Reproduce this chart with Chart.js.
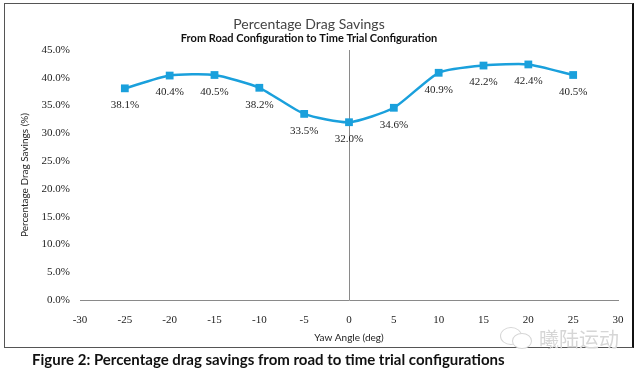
<!DOCTYPE html>
<html>
<head>
<meta charset="utf-8">
<script src="https://cdn.jsdelivr.net/npm/chart.js@4.4.1/dist/chart.umd.min.js"></script>
<style>
  html, body { margin: 0; padding: 0; background: #fff; }
  #wrap { position: relative; width: 640px; height: 369px; overflow: hidden; }
  #frame { position: absolute; left: 4px; top: 3px; width: 630px; height: 345px;
           border: 1px solid #555; border-right: 2px solid #111; box-sizing: border-box; }
  #chart { position: absolute; left: 0; top: 0; }
  #caption { position: absolute; left: 32px; top: 350px; font: bold 15px Lato, 'Open Sans', sans-serif;
             color: #111; white-space: nowrap; }
  #mark { position: absolute; left: 539px; top: 324px; font: 20px 'Noto Sans CJK SC', sans-serif;
          color: #d6d6d6; white-space: nowrap; }
  .bubble { position: absolute; border: 1.5px solid #d6d6d6; border-radius: 50%; }
</style>
</head>
<body>
<div id="wrap">
  <div id="frame"></div>
  <canvas id="chart" width="640" height="369"></canvas>
  <div class="bubble" style="left:500px;top:327px;width:20px;height:16px;"></div>
  <div class="bubble" style="left:512px;top:333px;width:18px;height:14px;background:#fff;"></div>
  <div id="mark">曦陆运动</div>
  <div id="caption">Figure 2: Percentage drag savings from road to time trial configurations</div>
</div>
<script>
// ── Data ──
var yawAngles   = [-25, -20, -15, -10, -5, 0, 5, 10, 15, 20, 25];
var dragSavings = [38.1, 40.4, 40.5, 38.2, 33.5, 32.0, 34.6, 40.9, 42.2, 42.4, 40.5];
var xRange = [-30, 30];
var yRange = [0, 45];

var lineColor = '#1aa0dc';
var serif = "'Liberation Serif', 'DejaVu Serif', serif";
var sans = "Lato, 'Open Sans', sans-serif";
var narrow = "'Liberation Sans Narrow', " + sans;

// ── Value labels under each marker ──
var pointLabels = {
    id: 'pointLabels',
    afterDatasetsDraw: function (chart) {
        var ctx = chart.ctx;
        var meta = chart.getDatasetMeta(0);
        ctx.save();
        ctx.font = '11px ' + serif;
        ctx.fillStyle = '#222';
        ctx.textAlign = 'center';
        ctx.textBaseline = 'middle';
        meta.data.forEach(function (pt, i) {
            ctx.fillText(dragSavings[i].toFixed(1) + '%', pt.x, pt.y + 17);
        });
        ctx.restore();
    }
};

new Chart(document.getElementById('chart'), {
    type: 'line',
    data: {
        datasets: [{
            data: yawAngles.map(function (x, i) { return { x: x, y: dragSavings[i] }; }),
            borderColor: lineColor,
            backgroundColor: lineColor,
            borderWidth: 2.5,
            tension: 0.2,
            pointStyle: 'rect',
            pointRadius: 5.5,
            pointBorderWidth: 0,
            pointBackgroundColor: lineColor
        }]
    },
    options: {
        responsive: false,
        animation: false,
        layout: { padding: { left: 0, right: 22, top: 0, bottom: 0 } },
        plugins: {
            legend: { display: false },
            tooltip: { enabled: false },
            title: {
                display: true,
                text: 'Percentage Drag Savings',
                color: '#444',
                font: { family: narrow, size: 14, weight: 'normal', lineHeight: 1 },
                padding: { top: 17, bottom: 0 }
            },
            subtitle: {
                display: true,
                text: 'From Road Configuration to Time Trial Configuration',
                color: '#111',
                font: { family: narrow, size: 11, weight: 'bold', lineHeight: 1 },
                padding: { top: 2, bottom: 6 }
            }
        },
        scales: {
            x: {
                type: 'linear',
                min: xRange[0],
                max: xRange[1],
                ticks: { stepSize: 5, padding: 14, color: '#222', font: { family: serif, size: 11 } },
                grid: {
                    drawTicks: false,
                    color: function (c) { return c.tick && c.tick.value === 0 ? '#8a8a8a' : 'rgba(0,0,0,0)'; }
                },
                border: { display: true, color: '#8a8a8a' },
                title: {
                    display: true,
                    text: 'Yaw Angle (deg)',
                    color: '#222',
                    font: { family: sans, size: 10 },
                    padding: { top: 0, bottom: 25 }
                },
                afterFit: function (s) { s.height = 69; }
            },
            y: {
                min: yRange[0],
                max: yRange[1],
                ticks: {
                    stepSize: 5,
                    padding: 10,
                    color: '#222',
                    font: { family: serif, size: 11 },
                    callback: function (v) { return v.toFixed(1) + '%'; }
                },
                grid: { display: false, drawTicks: false },
                border: { display: false },
                title: {
                    display: true,
                    text: 'Percentage Drag Savings (%)',
                    color: '#222',
                    font: { family: sans, size: 10 },
                    padding: { top: 19, bottom: 0 }
                },
                afterFit: function (s) { s.width = 80; }
            }
        }
    },
    plugins: [pointLabels]
});
</script>
</body>
</html>
